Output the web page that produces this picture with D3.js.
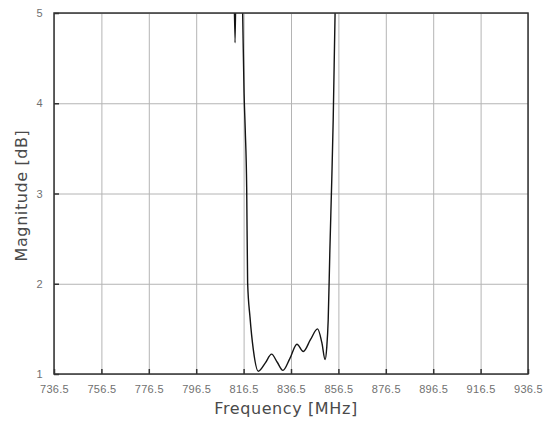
<!DOCTYPE html>
<html>
<head>
<meta charset="utf-8">
<script src="https://cdn.jsdelivr.net/npm/d3@7"></script>
<style>
  body { margin: 0; background: #fff; }
  svg { display: block; }
</style>
</head>
<body>
<svg id="chart"></svg>
<script>
// values
const freqs = [812.3, 812.9, 813.4, 815.6, 816.1, 816.7, 817.2, 817.8, 818.2, 819.2, 820.6, 822.7, 825.6, 828.3, 830.7, 833.1, 836.0, 839.0, 841.7, 844.7, 847.7, 849.5, 850.9, 851.6, 852.2, 852.9, 853.7, 854.3, 855.1, 855.6];
const mags  = [5.6,   4.67,  5.6,   5.6,   5.0,   4.11,  3.70,  3.07,  2.01,  1.63,  1.27,  1.03,  1.12,  1.22,  1.13,  1.04,  1.17,  1.33,  1.25,  1.38,  1.50,  1.35,  1.16,  1.30,  1.60,  2.37,  3.15,  3.81,  5.0,   5.6];
const xTicks = [736.5, 756.5, 776.5, 796.5, 816.5, 836.5, 856.5, 876.5, 896.5, 916.5, 936.5];
const yTicks = [1, 2, 3, 4, 5];

const width = 551, height = 430;
const mLeft = 54, mRight = 528, mTop = 13, mBottom = 374;

const svg = d3.select("#chart").attr("width", width).attr("height", height);

const x = d3.scaleLinear().domain([736.5, 936.5]).range([mLeft, mRight]);
const y = d3.scaleLinear().domain([1, 5]).range([mBottom, mTop]);

// grid
svg.append("g")
  .attr("transform", "translate(0," + mBottom + ")")
  .call(d3.axisBottom(x).tickValues(xTicks).tickSize(-(mBottom - mTop)).tickFormat(""))
  .call(g => g.select(".domain").remove())
  .call(g => g.selectAll("line").attr("stroke", "#b4b4b4").attr("stroke-width", 1));
svg.append("g")
  .attr("transform", "translate(" + mLeft + ",0)")
  .call(d3.axisLeft(y).tickValues(yTicks).tickSize(-(mRight - mLeft)).tickFormat(""))
  .call(g => g.select(".domain").remove())
  .call(g => g.selectAll("line").attr("stroke", "#b4b4b4").attr("stroke-width", 1));

// curve
svg.append("clipPath").attr("id", "clip")
  .append("rect").attr("x", mLeft).attr("y", mTop).attr("width", mRight - mLeft).attr("height", mBottom - mTop);

const pts = freqs.map((f, i) => [f, mags[i]]);
svg.append("path")
  .datum(pts)
  .attr("clip-path", "url(#clip)")
  .attr("fill", "none")
  .attr("stroke", "#141414")
  .attr("stroke-width", 1.4)
  .attr("d", d3.line().x(d => x(d[0])).y(d => y(d[1])).curve(d3.curveMonotoneX));

// axes with inward ticks
const xAxis = svg.append("g")
  .attr("transform", "translate(0," + mBottom + ")")
  .call(d3.axisBottom(x).tickValues(xTicks).tickSizeInner(-5).tickSizeOuter(0).tickPadding(11).tickFormat(d3.format(".1f")));
const yAxis = svg.append("g")
  .attr("transform", "translate(" + mLeft + ",0)")
  .call(d3.axisLeft(y).tickValues(yTicks).tickSizeInner(-5).tickSizeOuter(0).tickPadding(11).tickFormat(d3.format("d")));

[xAxis, yAxis].forEach(g => {
  g.select(".domain").remove();
  g.selectAll("line").attr("stroke", "#333").attr("stroke-width", 1.5);
  g.selectAll("text")
    .attr("fill", "#707070")
    .style("font-family", "'Liberation Sans', Arial, sans-serif")
    .style("font-size", "11px")
    .style("letter-spacing", "0.3px");
});

// frame
svg.append("rect")
  .attr("x", mLeft).attr("y", mTop)
  .attr("width", mRight - mLeft).attr("height", mBottom - mTop)
  .attr("fill", "none").attr("stroke", "#333").attr("stroke-width", 1.5);

// titles
svg.append("text")
  .attr("x", 286).attr("y", 414)
  .attr("text-anchor", "middle")
  .attr("fill", "#4a4a4a")
  .style("font-family", "'DejaVu Sans', sans-serif")
  .style("font-size", "16px")
  .style("letter-spacing", "0.6px")
  .text("Frequency [MHz]");

svg.append("text")
  .attr("transform", "translate(27," + ((mTop + mBottom) / 2 + 2) + ") rotate(-90)")
  .attr("text-anchor", "middle")
  .attr("fill", "#4a4a4a")
  .style("font-family", "'DejaVu Sans', sans-serif")
  .style("font-size", "16px")
  .style("letter-spacing", "0.6px")
  .text("Magnitude [dB]");
</script>
</body>
</html>
